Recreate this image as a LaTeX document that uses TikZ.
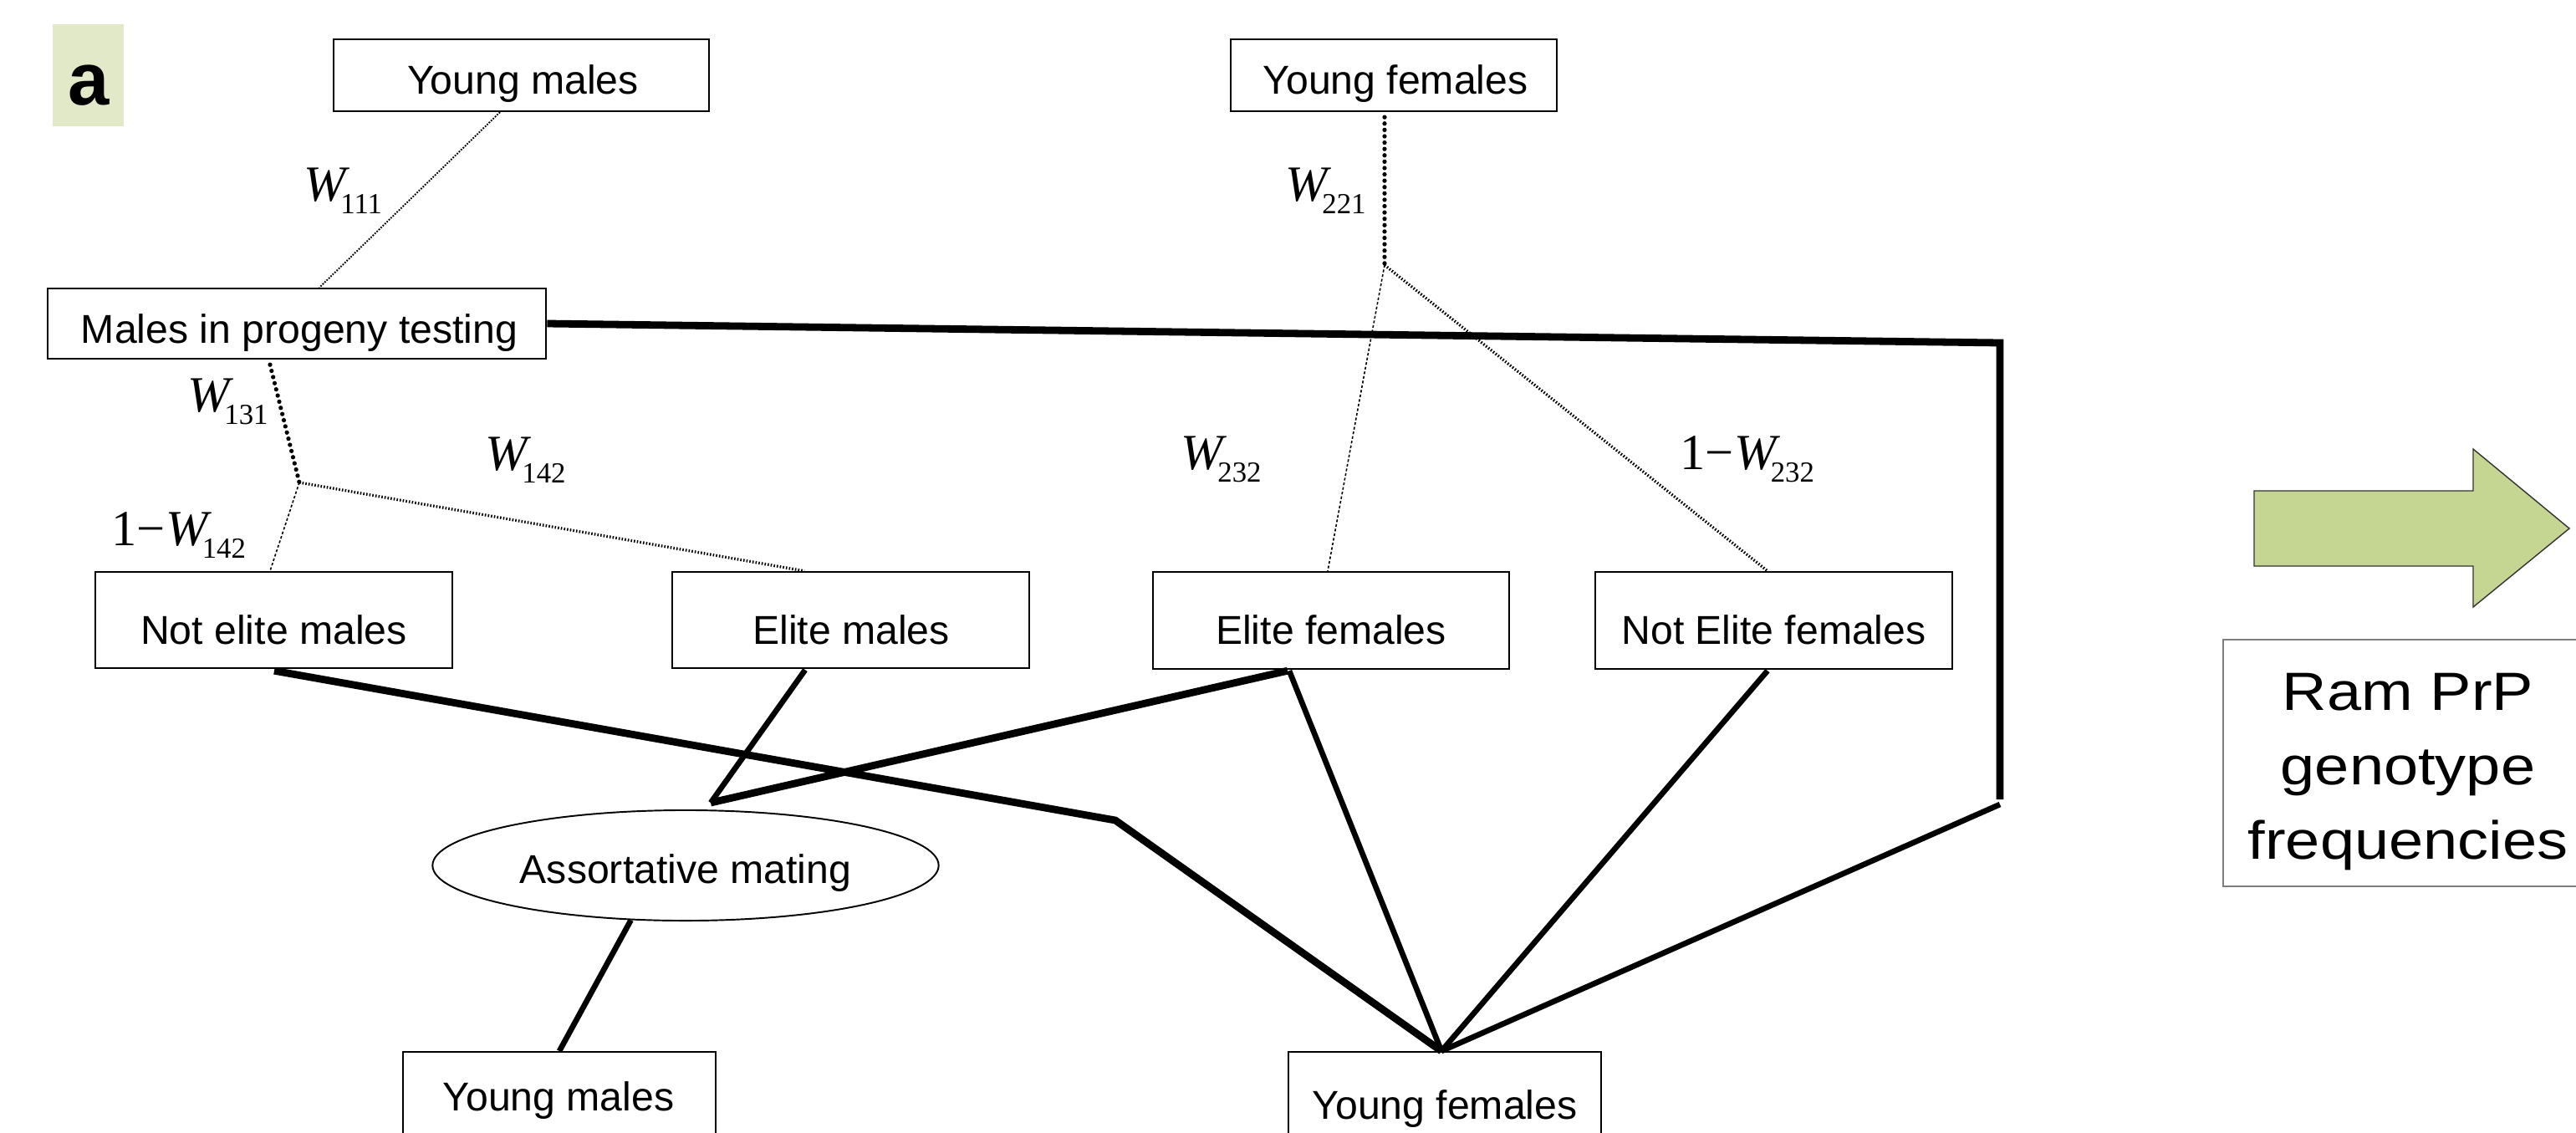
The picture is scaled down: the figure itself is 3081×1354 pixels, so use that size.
\documentclass[tikz,border=0pt]{standalone}
\usepackage{fontspec}
\setmainfont{Liberation Sans}
\newfontfamily\wf{Liberation Serif}
\usetikzlibrary{calc,shapes.geometric}
\definecolor{labbg}{RGB}{226,233,201}
\definecolor{arrowgreen}{RGB}{197,214,146}
\definecolor{rambord}{RGB}{125,125,125}
\newcommand{\Wlab}[1]{{\wf\fontsize{17.2}{20}\selectfont\textit{W}\kern-3.2pt\raisebox{-4.3pt}{\fontsize{9.9}{11}\selectfont #1}}}
\newcommand{\oneWlab}[1]{{\wf\fontsize{17.2}{20}\selectfont 1−\textit{W}\kern-3.2pt\raisebox{-4.3pt}{\fontsize{9.9}{11}\selectfont #1}}}
\begin{document}
\begin{tikzpicture}[x=0.01cm,y=-0.01cm,
  box/.style={draw, line width=0.65pt, inner sep=0pt, rectangle},
  boxtext/.style={anchor=base, inner sep=0pt, font=\fontsize{13.7}{16}\selectfont},
  wlab/.style={anchor=base west, inner sep=0pt},
  thickline/.style={line width=2.5pt},
  normline/.style={line width=1.9pt},
  bigdots/.style={line width=1.5pt, line cap=round, dash pattern=on 0pt off 2.16pt},
  finedots/.style={line width=0.55pt, dash pattern=on 0.5pt off 0.45pt},
  meddots/.style={line width=0.95pt, dash pattern=on 0.45pt off 0.6pt},
  finedash/.style={line width=0.45pt, dash pattern=on 0.9pt off 0.7pt},
  ramtext/.style={anchor=base, inner sep=0pt, font=\fontsize{18.3}{22}\selectfont}
]
\useasboundingbox (0,0) rectangle (3081,1354);
\clip (0,0) rectangle (3081,1354);
\fill[white] (0,0) rectangle (3081,1354);

% panel label
\fill[labbg] (63,29) rectangle (148,151);
\node[anchor=base, inner sep=0pt, font=\fontsize{25.2}{28}\selectfont\bfseries] (lab) at (106,125) {a};

% boxes
\node[box, minimum width=4.49cm, minimum height=0.86cm] (ym1) at (623.5,90) {};
\node[box, minimum width=5.96cm, minimum height=0.84cm] (mpt) at (355,387) {};
\node[box, minimum width=3.90cm, minimum height=0.86cm] (yf1) at (1667,90) {};
\node[box, minimum width=4.27cm, minimum height=1.15cm] (nem) at (327.5,741.5) {};
\node[box, minimum width=4.27cm, minimum height=1.15cm] (em) at (1017.5,741.5) {};
\node[box, minimum width=4.26cm, minimum height=1.16cm] (ef) at (1592,742) {};
\node[box, minimum width=4.27cm, minimum height=1.16cm] (nef) at (2121.5,742) {};
\node[draw, ellipse, line width=0.55pt, inner sep=0pt, minimum width=6.05cm, minimum height=1.32cm] (am) at (820,1035) {};
\node[box, anchor=north, minimum width=3.74cm, minimum height=2cm] (ym2) at (669,1257) {};
\node[box, anchor=north, minimum width=3.74cm, minimum height=2cm] (yf2) at (1728,1257) {};

% box texts
\node[boxtext] (tym1) at (625.5,112) {Young males};
\node[boxtext] (tmpt) at (358,410) {Males in progeny testing};
\node[boxtext] (tyf1) at (1669,112) {Young females};
\node[boxtext] (tnem) at (327.5,770) {Not elite males};
\node[boxtext] (tem) at (1018,770) {Elite males};
\node[boxtext] (tef) at (1592,770) {Elite females};
\node[boxtext] (tnef) at (2121.5,770) {Not Elite females};
\node[boxtext] (tam) at (820,1056) {Assortative mating};
\node[boxtext] (tym2) at (668,1328) {Young males};
\node[boxtext] (tyf2) at (1728,1338) {Young females};

% junction coordinates
\coordinate (J1) at (358,577);
\coordinate (J2) at (1656,317);
\coordinate (A) at (850,960);
\coordinate (K) at (1334,981);
\coordinate (C1) at (2392,410);
\coordinate (C2) at (2392,956);
\coordinate (C3) at (2392,962);
\coordinate (yfin) at ($(yf2.north)+(-4,0)$);

% selection (dotted) connectors
\draw[finedots] ($(ym1.south)+(-25.5,0)$) -- ($(mpt.north)+(27,0)$);
\draw[bigdots] ($(yf1.south)+(-11,6)$) -- (J2);
\draw[finedash] (J2) -- ($(ef.north)+(-4,0)$);
\draw[meddots] (J2) -- ($(nef.north)+(-7.5,0)$);
\draw[bigdots] ($(mpt.south)+(-32,6)$) -- (J1);
\draw[finedash] (J1) -- ($(nem.north)+(-4.5,0)$);
\draw[meddots] (J1) -- ($(em.north)+(-55.5,0)$);

% mating connectors
\draw[thickline] (mpt.east) -- (C1) -- (C2);
\draw[normline] (C3) -- (yfin);
\draw[thickline] ($(nem.south)+(0.5,2)$) -- (K) -- (yfin);
\draw[normline] ($(em.south)+(-54.5,1)$) -- (A);
\draw[thickline] ($(ef.south)+(-52,1)$) -- (A);
\draw[normline] ($(ef.south)+(-50,1)$) -- (yfin);
\draw[normline] ($(nef.south)+(-7.5,1)$) -- (yfin);
\draw[normline] (am.225) -- (ym2.north);

% W labels
\node[wlab] (w111) at (363,240) {\Wlab{111}};
\node[wlab] (w221) at (1537,240) {\Wlab{221}};
\node[wlab] (w131) at (224,492) {\Wlab{131}};
\node[wlab] (w142) at (580,562) {\Wlab{142}};
\node[wlab] (w142b) at (133,652) {\oneWlab{142}};
\node[wlab] (w232) at (1412,561) {\Wlab{232}};
\node[wlab] (w232b) at (2009,561) {\oneWlab{232}};

% right panel
\fill[arrowgreen, draw=black!80, line width=0.4pt] (2696,587) -- (2958,587) -- (2958,537) -- (3073,632) -- (2958,726) -- (2958,677) -- (2696,677) -- cycle;
\node[draw=rambord, line width=0.5pt, anchor=north west, inner sep=0pt, minimum width=4.6cm, minimum height=2.95cm] (ram) at (2658,764) {};
\node[ramtext] (ram1) at (2880,849) {\scalebox{1.15}[1]{Ram PrP}};
\node[ramtext] (ram2) at (2880,938) {\scalebox{1.15}[1]{genotype}};
\node[ramtext] (ram3) at (2880,1027) {\scalebox{1.15}[1]{frequencies}};
\end{tikzpicture}
\end{document}
